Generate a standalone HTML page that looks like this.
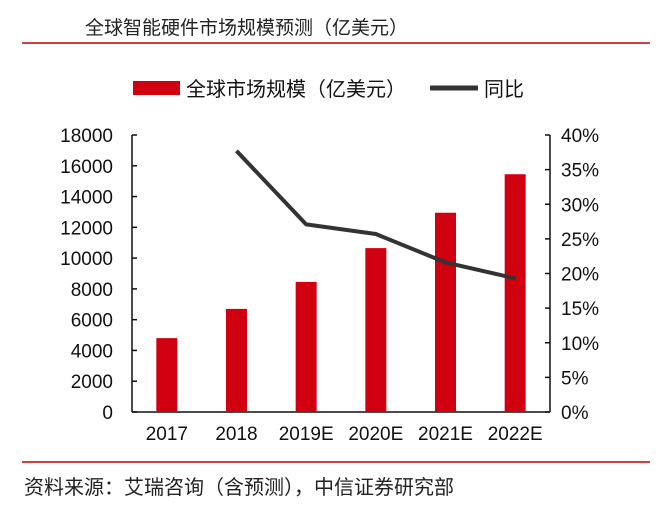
<!DOCTYPE html>
<html><head><meta charset="utf-8"><style>
body{margin:0;background:#fff;}
svg text{font-family:"Liberation Sans","Noto Sans CJK SC",sans-serif;}
</style></head><body>
<svg width="660" height="506" xmlns="http://www.w3.org/2000/svg">
<text x="85" y="34" font-size="19" fill="#222">全球智能硬件市场规模预测（亿美元）</text>
<line x1="22" y1="43" x2="650" y2="43" stroke="#c00000" stroke-width="1.5"/>
<rect x="133" y="81" width="47" height="14" fill="#d00010"/>
<text x="186" y="96" font-size="20" fill="#111">全球市场规模（亿美元）</text>
<line x1="430" y1="88" x2="478" y2="88" stroke="#333" stroke-width="5"/>
<text x="484" y="96" font-size="20" fill="#111">同比</text>
<g id="plot"></g>
<line x1="22" y1="462" x2="650" y2="462" stroke="#c00000" stroke-width="1.5"/>
<text x="24" y="494" font-size="20" fill="#222">资料来源：艾瑞咨询（含预测），中信证券研究部</text>
</svg>
<script>
const categories=["2017","2018","2019E","2020E","2021E","2022E"];
const marketSize=[4800,6700,8450,10650,12950,15450];
const yoy=[null,37.7,27.1,25.7,21.6,19.3];
const leftTicks=[0,2000,4000,6000,8000,10000,12000,14000,16000,18000];
const rightTicks=[0,5,10,15,20,25,30,35,40];
const NS="http://www.w3.org/2000/svg";
const g=document.getElementById('plot');
const X0=132,X1=550,Y0=412,Y1=135;
const yL=v=>Y0-(v/18000)*(Y0-Y1);
const yR=v=>Y0-(v/40)*(Y0-Y1);
const bw=(X1-X0)/categories.length;
const xC=i=>X0+bw*(i+0.5);
function mk(t,a){const e=document.createElementNS(NS,t);for(const k in a)e.setAttribute(k,a[k]);g.appendChild(e);return e;}
let e=mk('line',{x1:X0,y1:Y1,x2:X0,y2:Y0,stroke:'#111','stroke-width':1.5});


e=mk('line',{x1:X1,y1:Y1,x2:X1,y2:Y0,stroke:'#111','stroke-width':1.5});


e=mk('line',{x1:X0,y1:Y0,x2:X1,y2:Y0,stroke:'#111','stroke-width':1.5});


leftTicks.forEach(v=>{
 const y=yL(v);
 let t=mk('line',{x1:X0,y1:y,x2:X0+5,y2:y,stroke:'#111','stroke-width':1.5});
 
 
 t=mk('text',{x:113,y:y+7,'text-anchor':'end','font-size':19,fill:'#111'});t.textContent=v;
 
 
});
rightTicks.forEach(v=>{
 const y=yR(v);
 let t=mk('line',{x1:X1-5,y1:y,x2:X1,y2:y,stroke:'#111','stroke-width':1.5});
 
 
 t=mk('text',{x:561,y:y+7,'font-size':19,fill:'#111'});t.textContent=v+'%';
 
 
});
categories.forEach((c,i)=>{
 const y=yL(marketSize[i]);
 let r=mk('rect',{x:xC(i)-10.5,y:y,width:21,height:Y0-y,fill:'#d00010'});
 
 
 let t=mk('text',{x:xC(i),y:440,'text-anchor':'middle','font-size':19,fill:'#111'});t.textContent=c;
 
 
});
const pts=[];yoy.forEach((v,i)=>{if(v!=null)pts.push(xC(i)+','+yR(v));});
const pl=mk('polyline',{points:pts.join(' '),fill:'none',stroke:'#333','stroke-width':4,'stroke-linejoin':'round'});


</script>
</body></html>
